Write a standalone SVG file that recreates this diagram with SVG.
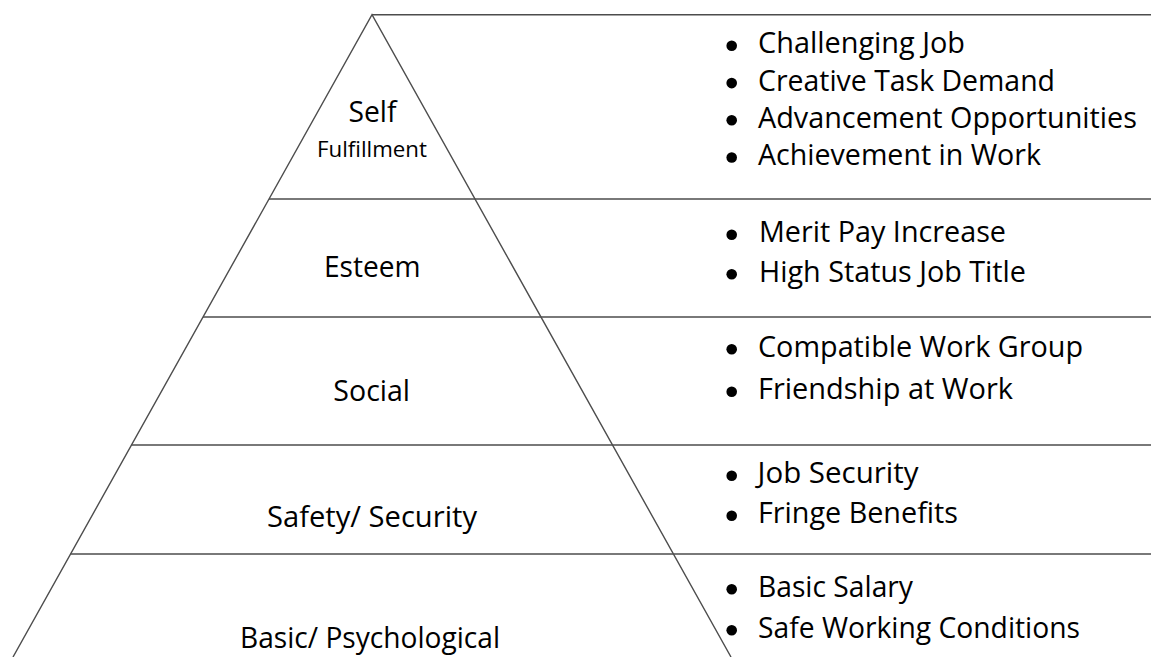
<svg xmlns="http://www.w3.org/2000/svg" width="1152" height="657" viewBox="0 0 1152 657">
  <style>
    .edge { stroke: #4d4d4d; stroke-width: 1.4; fill: none; }
    .lbl { font-family: "Open Sans", Lato, "Liberation Sans", sans-serif; font-size: 29px; fill: #000000; font-variant-ligatures: none; }
    .small { font-size: 21.5px; }
    .mid { text-anchor: middle; }
    .dot { fill: #000000; }
  </style>
  <rect width="1152" height="657" fill="#ffffff"/>

  <!-- pyramid outline and tier dividers -->
  <g id="outline">
    <path class="edge" d="M13,657 L372,14.7 L731,657"/>
    <line class="edge" x1="372" y1="14.7" x2="1151" y2="14.7"/>
    <line class="edge" x1="269" y1="199" x2="1151" y2="199"/>
    <line class="edge" x1="203" y1="317" x2="1151" y2="317"/>
    <line class="edge" x1="131.5" y1="445" x2="1151" y2="445"/>
    <line class="edge" x1="70.5" y1="554" x2="1151" y2="554"/>
  </g>

  <!-- tier 5 -->
  <g id="tier-self-fulfillment">
    <text class="lbl mid" x="372.5" y="121.5" textLength="48" lengthAdjust="spacingAndGlyphs">Self</text>
    <text class="lbl small mid" x="372" y="156.5" textLength="110" lengthAdjust="spacingAndGlyphs">Fulfillment</text>
    <circle class="dot" cx="731.7" cy="45.8" r="5.3"/>
    <text class="lbl" x="758" y="53.3" textLength="207" lengthAdjust="spacingAndGlyphs">Challenging Job</text>
    <circle class="dot" cx="731.7" cy="83.1" r="5.3"/>
    <text class="lbl" x="758" y="90.6" textLength="297" lengthAdjust="spacingAndGlyphs">Creative Task Demand</text>
    <circle class="dot" cx="731.7" cy="120.2" r="5.3"/>
    <text class="lbl" x="758" y="127.7" textLength="379" lengthAdjust="spacingAndGlyphs">Advancement Opportunities</text>
    <circle class="dot" cx="731.7" cy="157.5" r="5.3"/>
    <text class="lbl" x="758" y="165" textLength="283" lengthAdjust="spacingAndGlyphs">Achievement in Work</text>
  </g>

  <!-- tier 4 -->
  <g id="tier-esteem">
    <text class="lbl mid" x="372.3" y="276.7" textLength="96.7" lengthAdjust="spacingAndGlyphs">Esteem</text>
    <circle class="dot" cx="731.7" cy="234.8" r="5.3"/>
    <text class="lbl" x="759" y="242.3" textLength="247" lengthAdjust="spacingAndGlyphs">Merit Pay Increase</text>
    <circle class="dot" cx="731.7" cy="274.2" r="5.3"/>
    <text class="lbl" x="759" y="281.7" textLength="267" lengthAdjust="spacingAndGlyphs">High Status Job Title</text>
  </g>

  <!-- tier 3 -->
  <g id="tier-social">
    <text class="lbl mid" x="371.7" y="401" textLength="76.7" lengthAdjust="spacingAndGlyphs">Social</text>
    <circle class="dot" cx="731.7" cy="349.2" r="5.3"/>
    <text class="lbl" x="758" y="356.7" textLength="325" lengthAdjust="spacingAndGlyphs">Compatible Work Group</text>
    <circle class="dot" cx="731.7" cy="391.8" r="5.3"/>
    <text class="lbl" x="758" y="399.3" textLength="255" lengthAdjust="spacingAndGlyphs">Friendship at Work</text>
  </g>

  <!-- tier 2 -->
  <g id="tier-safety">
    <text class="lbl mid" x="372" y="527" textLength="210" lengthAdjust="spacingAndGlyphs">Safety/ Security</text>
    <circle class="dot" cx="731.7" cy="475.8" r="5.3"/>
    <text class="lbl" x="757.5" y="483.3" textLength="161" lengthAdjust="spacingAndGlyphs">Job Security</text>
    <circle class="dot" cx="731.7" cy="515.8" r="5.3"/>
    <text class="lbl" x="758" y="523.3" textLength="200" lengthAdjust="spacingAndGlyphs">Fringe Benefits</text>
  </g>

  <!-- tier 1 -->
  <g id="tier-basic">
    <text class="lbl mid" x="370" y="648" textLength="260" lengthAdjust="spacingAndGlyphs">Basic/ Psychological</text>
    <circle class="dot" cx="731.7" cy="589.2" r="5.3"/>
    <text class="lbl" x="758" y="596.7" textLength="155" lengthAdjust="spacingAndGlyphs">Basic Salary</text>
    <circle class="dot" cx="731.7" cy="630.2" r="5.3"/>
    <text class="lbl" x="758" y="637.7" textLength="322" lengthAdjust="spacingAndGlyphs">Safe Working Conditions</text>
  </g>
</svg>
